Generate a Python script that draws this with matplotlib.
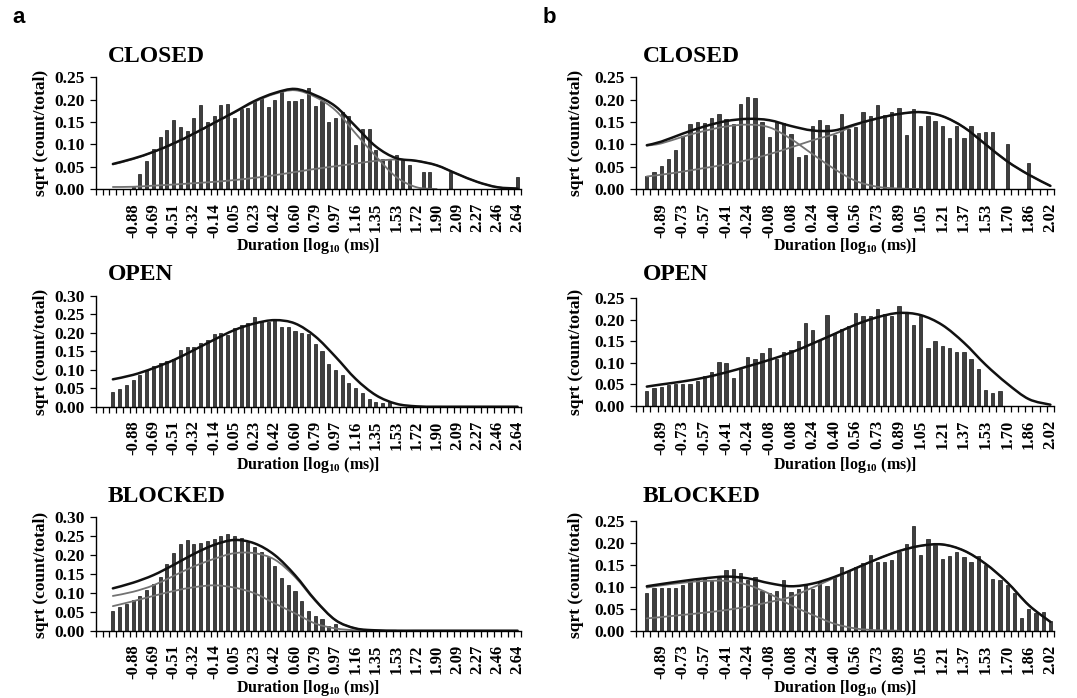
import numpy as np
import matplotlib
matplotlib.use('Agg')
import matplotlib.pyplot as plt
from matplotlib.ticker import FormatStrFormatter
from matplotlib.path import Path
from matplotlib.patches import PathPatch

plt.rcParams['font.family'] = ['Liberation Serif', 'DejaVu Serif']
plt.rcParams['font.weight'] = 'bold'
plt.rcParams['mathtext.fontset'] = 'custom'
plt.rcParams['mathtext.rm'] = 'Liberation Serif:bold'
plt.rcParams['mathtext.it'] = 'Liberation Serif:bold'
plt.rcParams['mathtext.bf'] = 'Liberation Serif:bold'

# ---- tick labels (every 3rd bin is labelled) ----
a_ticklabels = ['-0.88', '-0.69', '-0.51', '-0.32', '-0.14', '0.05', '0.23', '0.42', '0.60', '0.79',
                '0.97', '1.16', '1.35', '1.53', '1.72', '1.90', '2.09', '2.27', '2.46', '2.64']
b_ticklabels = ['-0.89', '-0.73', '-0.57', '-0.41', '-0.24', '-0.08', '0.08', '0.24', '0.40', '0.56',
                '0.73', '0.89', '1.05', '1.21', '1.37', '1.53', '1.70', '1.86', '2.02']
a_nbins, a_first_label = 63, 5
b_nbins, b_first_label = 58, 3

# ---- histogram bars, sqrt(count/total) ----
a_closed = [0, 0, 0, 0, 0, 0.005, 0.034, 0.063, 0.089, 0.116,
            0.131, 0.154, 0.139, 0.130, 0.159, 0.187, 0.151, 0.164, 0.187, 0.191,
            0.160, 0.178, 0.181, 0.196, 0.203, 0.184, 0.199, 0.217, 0.196, 0.196,
            0.202, 0.225, 0.186, 0.196, 0.151, 0.160, 0.172, 0.163, 0.098, 0.134,
            0.134, 0.087, 0.067, 0.066, 0.077, 0.067, 0.054, 0, 0.039, 0.039,
            0, 0, 0.039, 0, 0, 0, 0, 0, 0, 0,
            0, 0, 0.027]
a_open = [0, 0, 0.040, 0.047, 0.059, 0.072, 0.086, 0.100, 0.110, 0.117,
          0.123, 0.128, 0.152, 0.160, 0.162, 0.171, 0.180, 0.197, 0.200, 0.195,
          0.213, 0.220, 0.226, 0.243, 0.232, 0.230, 0.236, 0.215, 0.215, 0.205,
          0.200, 0.196, 0.170, 0.150, 0.115, 0.100, 0.085, 0.065, 0.050, 0.036,
          0.022, 0.013, 0.010, 0.013, 0, 0, 0, 0, 0, 0,
          0, 0, 0, 0, 0, 0, 0, 0, 0, 0,
          0, 0, 0]
a_blocked = [0, 0, 0.052, 0.062, 0.071, 0.080, 0.093, 0.108, 0.124, 0.143,
             0.177, 0.205, 0.229, 0.240, 0.229, 0.233, 0.236, 0.243, 0.251, 0.256,
             0.250, 0.246, 0.235, 0.222, 0.207, 0.196, 0.170, 0.140, 0.120, 0.105,
             0.078, 0.053, 0.040, 0.030, 0.013, 0.017, 0, 0, 0, 0,
             0, 0, 0, 0, 0, 0, 0, 0, 0, 0,
             0, 0, 0, 0, 0, 0, 0, 0, 0, 0,
             0, 0, 0]
b_closed = [0, 0.028, 0.037, 0.051, 0.067, 0.087, 0.118, 0.146, 0.149, 0.147,
            0.160, 0.168, 0.157, 0.146, 0.190, 0.205, 0.204, 0.150, 0.117, 0.150,
            0.148, 0.123, 0.072, 0.077, 0.140, 0.155, 0.144, 0.120, 0.168, 0.135,
            0.138, 0.172, 0.163, 0.188, 0.165, 0.172, 0.182, 0.120, 0.180, 0.142,
            0.163, 0.152, 0.142, 0.115, 0.142, 0.115, 0.142, 0.125, 0.128, 0.128,
            0, 0.100, 0, 0, 0.058, 0, 0, 0]
b_open = [0, 0.035, 0.041, 0.044, 0.048, 0.052, 0.051, 0.050, 0.058, 0.070,
          0.078, 0.102, 0.100, 0.066, 0.087, 0.113, 0.110, 0.122, 0.135, 0.110,
          0.125, 0.130, 0.150, 0.192, 0.176, 0.153, 0.212, 0.170, 0.178, 0.185,
          0.216, 0.209, 0.210, 0.226, 0.214, 0.209, 0.232, 0.218, 0.187, 0.210,
          0.135, 0.150, 0.140, 0.135, 0.125, 0.125, 0.110, 0.085, 0.036, 0.030,
          0.035, 0, 0, 0, 0, 0, 0, 0]
b_blocked = [0, 0.085, 0.097, 0.097, 0.097, 0.097, 0.105, 0.112, 0.120, 0.120,
             0.112, 0.120, 0.137, 0.140, 0.132, 0.115, 0.122, 0.090, 0.085, 0.090,
             0.115, 0.088, 0.095, 0.105, 0.095, 0.112, 0.102, 0.125, 0.145, 0.135,
             0.145, 0.153, 0.172, 0.157, 0.157, 0.160, 0.180, 0.198, 0.238, 0.173,
             0.208, 0.195, 0.163, 0.170, 0.180, 0.167, 0.157, 0.170, 0.150, 0.118,
             0.115, 0.105, 0.085, 0.030, 0.050, 0.040, 0.043, 0.022]

# ---- fitted curves, read at the labelled bins ----
a_fit_x = [2, 5, 8, 11, 14, 17, 20, 23, 26, 29, 32, 35, 38, 41, 44, 47, 50, 53, 56, 59, 62]
a_closed_fit = [0.056, 0.068, 0.083, 0.102, 0.124, 0.148, 0.172, 0.197, 0.215, 0.224, 0.210,
                0.185, 0.140, 0.095, 0.069, 0.063, 0.053, 0.034, 0.016, 0.004, 0.001]
a_closed_c1 = [0.055, 0.067, 0.083, 0.101, 0.123, 0.147, 0.171, 0.195, 0.213, 0.221, 0.206,
               0.176, 0.124, 0.073, 0.027, 0.004, 0.0]
a_closed_c2 = [0.0045, 0.005, 0.0075, 0.010, 0.013, 0.016, 0.020, 0.025, 0.031, 0.038, 0.045,
               0.051, 0.057, 0.063, 0.066, 0.063, 0.053, 0.034, 0.016, 0.004, 0.001]
a_open_fit = [0.074, 0.086, 0.104, 0.126, 0.153, 0.181, 0.207, 0.225, 0.234, 0.225, 0.190,
              0.135, 0.075, 0.031, 0.008, 0.001, 0, 0, 0, 0, 0]
a_blocked_fit = [0.112, 0.127, 0.147, 0.174, 0.203, 0.227, 0.240, 0.231, 0.200, 0.147, 0.081,
                 0.028, 0.006, 0.001, 0, 0, 0, 0, 0, 0, 0]
a_blocked_c1 = [0.092, 0.103, 0.120, 0.145, 0.170, 0.190, 0.205, 0.205, 0.188, 0.142, 0.079,
                0.028, 0.006, 0.001, 0]
a_blocked_c2 = [0.065, 0.078, 0.092, 0.105, 0.115, 0.120, 0.114, 0.099, 0.072, 0.046, 0.019,
                0.006, 0.001, 0]

b_fit_x = [1, 3, 6, 9, 12, 15, 18, 21, 24, 27, 30, 33, 36, 39, 42, 45, 48, 51, 54, 57]
b_closed_fit = [0.098, 0.106, 0.124, 0.140, 0.152, 0.157, 0.154, 0.141, 0.131, 0.131,
                0.145, 0.158, 0.168, 0.172, 0.163, 0.138, 0.100, 0.062, 0.032, 0.007]
b_closed_c1 = [0.097, 0.102, 0.117, 0.130, 0.140, 0.144, 0.138, 0.112, 0.078, 0.045,
               0.018, 0.005, 0.001, 0]
b_closed_c2 = [0.028, 0.032, 0.039, 0.047, 0.055, 0.065, 0.078, 0.093, 0.109, 0.123,
               0.143, 0.158, 0.168, 0.172, 0.163, 0.138, 0.100, 0.062, 0.032, 0.007]
b_open_fit = [0.045, 0.050, 0.057, 0.066, 0.078, 0.092, 0.107, 0.124, 0.145, 0.167,
              0.189, 0.206, 0.216, 0.211, 0.188, 0.147, 0.096, 0.052, 0.016, 0.003]
b_blocked_fit = [0.101, 0.106, 0.113, 0.119, 0.123, 0.119, 0.108, 0.101, 0.107, 0.122,
                 0.142, 0.163, 0.181, 0.193, 0.196, 0.182, 0.152, 0.110, 0.058, 0.020]
b_blocked_c1 = [0.098, 0.103, 0.109, 0.113, 0.113, 0.104, 0.084, 0.058, 0.036, 0.016,
                0.005, 0.001, 0]
b_blocked_c2 = [0.028, 0.031, 0.036, 0.041, 0.047, 0.055, 0.065, 0.077, 0.098, 0.120,
                0.142, 0.163, 0.181, 0.193, 0.196, 0.182, 0.152, 0.110, 0.058, 0.020]

W, H = 1077, 698
fig = plt.figure(figsize=(W / 100, H / 100), dpi=100)


def add_ax(left, top, right, bottom):
    return fig.add_axes([left / W, 1 - bottom / H, (right - left) / W, (bottom - top) / H])


def smooth_line(ax, xs, ys, color, lw, z):
    # smoothed line through the points (like a spreadsheet "smoothed line")
    pts = np.column_stack([np.asarray(xs, float), np.asarray(ys, float)])
    n = len(pts)
    verts, codes = [pts[0]], [Path.MOVETO]
    for i in range(n - 1):
        p0, p1 = pts[max(i - 1, 0)], pts[i]
        p2, p3 = pts[i + 1], pts[min(i + 2, n - 1)]
        verts += [p1 + (p2 - p0) / 6, p2 - (p3 - p1) / 6, p2]
        codes += [Path.CURVE4] * 3
    ax.add_patch(PathPatch(Path(verts, codes), fill=False, edgecolor=color, lw=lw,
                           zorder=z, capstyle='round', joinstyle='round'))


def draw(ax, nbins, first_label, ticklabels, bars, ymax, fit_x, fit, comps):
    x = np.arange(nbins)
    bars = np.array(bars)
    m = bars > 0
    ax.bar(x[m], bars[m], width=0.45, color='#3f3f3f', edgecolor='#151515', linewidth=0.5, zorder=2)
    for c in comps:
        smooth_line(ax, fit_x[:len(c)], c, '#727272', 1.3, 3)
    smooth_line(ax, fit_x, fit, '#111111', 1.8, 4)

    ax.set_xlim(-0.5, nbins - 0.5)
    ax.set_ylim(0, ymax)
    ax.set_yticks(np.arange(0, ymax + 0.001, 0.05))
    ax.yaxis.set_major_formatter(FormatStrFormatter('%.2f'))
    ax.set_xticks(np.arange(first_label, nbins, 3))
    ax.set_xticklabels(ticklabels, rotation=90)
    ax.set_xticks(np.arange(-0.5, nbins), minor=True)
    ax.tick_params(axis='x', which='major', length=0, pad=10, labelsize=12)
    ax.tick_params(axis='x', which='minor', length=4, width=0.9, direction='out')
    ax.tick_params(axis='y', length=4, width=0.9, labelsize=12.5, pad=4)
    for s in ['top', 'right']:
        ax.spines[s].set_visible(False)
    for s in ['left', 'bottom']:
        ax.spines[s].set_linewidth(1.0)
        ax.spines[s].set_zorder(5)


xlabel = r'Duration [log$_{10}$ (ms)]'

# column a
ax = add_ax(96, 77.3, 521, 189)
draw(ax, a_nbins, a_first_label, a_ticklabels, a_closed, 0.25, a_fit_x, a_closed_fit, [a_closed_c1, a_closed_c2])
ax = add_ax(96, 295.7, 521, 406.7)
draw(ax, a_nbins, a_first_label, a_ticklabels, a_open, 0.30, a_fit_x, a_open_fit, [])
ax = add_ax(96, 517.3, 521, 630.7)
draw(ax, a_nbins, a_first_label, a_ticklabels, a_blocked, 0.30, a_fit_x, a_blocked_fit, [a_blocked_c1, a_blocked_c2])

# column b
ax = add_ax(636, 77.3, 1054, 189)
draw(ax, b_nbins, b_first_label, b_ticklabels, b_closed, 0.25, b_fit_x, b_closed_fit, [b_closed_c1, b_closed_c2])
ax = add_ax(636, 298.3, 1054, 406)
draw(ax, b_nbins, b_first_label, b_ticklabels, b_open, 0.25, b_fit_x, b_open_fit, [])
ax = add_ax(636, 520.7, 1054, 630.7)
draw(ax, b_nbins, b_first_label, b_ticklabels, b_blocked, 0.25, b_fit_x, b_blocked_fit, [b_blocked_c1, b_blocked_c2])

# titles, axis labels, panel letters
for xl, col_mid, ylab_x in [(108, (96 + 521) / 2, 41), (643, (636 + 1054) / 2, 576)]:
    for title, base, ymid, xlab_y in [('CLOSED', 62, (77.3 + 189) / 2, 246),
                                      ('OPEN', 280.5, (296 + 407) / 2, 465),
                                      ('BLOCKED', 501.5, (518 + 631) / 2, 688)]:
        fig.text(xl / W, 1 - base / H, title, fontsize=17, fontweight='bold',
                 ha='left', va='baseline')
        fig.text(ylab_x / W, 1 - ymid / H, 'sqrt (count/total)', fontsize=12.5,
                 fontweight='bold', rotation=90, ha='center', va='center')
        fig.text(col_mid / W, 1 - xlab_y / H, xlabel, fontsize=11.5, fontweight='bold',
                 ha='center', va='center')

fig.text(12 / W, 1 - 23 / H, 'a', fontsize=16, fontweight='bold', family='Liberation Sans',
         ha='left', va='baseline')
fig.text(543 / W, 1 - 23 / H, 'b', fontsize=16, fontweight='bold', family='Liberation Sans',
         ha='left', va='baseline')

fig.savefig('out.png', dpi=100)
